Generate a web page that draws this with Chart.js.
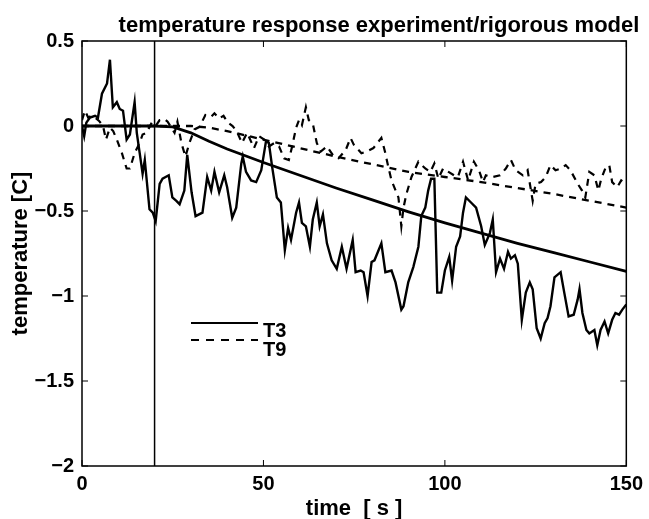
<!DOCTYPE html>
<html>
<head>
<meta charset="utf-8">
<script src="https://cdn.jsdelivr.net/npm/chart.js@4.4.0/dist/chart.umd.min.js"></script>
<style>
  html, body { margin: 0; padding: 0; background: #fff; }
</style>
</head>
<body>
<canvas id="myChart" width="649" height="519"></canvas>
<script>
// measured T3 (solid, noisy)
const t3Time = [0, 0.6, 1.2, 2.2, 3.6, 4.4, 5.5, 6.9, 7.7, 8.5, 9.6, 10.4, 11.3, 12.3, 13.2, 14.5, 15.1, 15.9, 16.7, 17.3,
  18.6, 19.5, 20.3, 21.4, 22.2, 23.9, 24.9, 26.0, 26.9, 28.2, 29.0, 30.2, 31.3, 33.2, 34.5, 35.6, 36.5, 37.8, 39.2, 40.0,
  41.4, 42.5, 43.9, 44.3, 45.2, 46.6, 48.0, 49.4, 50.7, 51.5, 52.4, 53.7, 54.8, 55.9, 56.8, 57.6, 59.0, 59.8, 60.6, 61.7,
  62.8, 63.6, 64.7, 65.5, 66.4, 67.5, 68.8, 70.2, 71.6, 72.9, 74.6, 75.4, 76.8, 77.6, 78.7, 79.8, 80.6, 82.5, 83.6, 85.3,
  86.4, 88.0, 88.6, 89.9, 91.3, 92.7, 93.5, 94.6, 95.4, 96.2, 97.1, 97.9, 99.0, 100.0, 101.2, 102.0, 103.1, 104.2, 105.0, 105.8,
  107.2, 108.6, 110.0, 111.0, 112.4, 113.2, 114.1, 115.2, 116.3, 117.4, 118.2, 119.3, 120.1, 121.2, 122.3, 123.4, 124.2, 125.3, 126.4, 127.5,
  128.3, 129.1, 130.2, 131.9, 132.9, 134.1, 135.5, 136.6, 137.1, 137.9, 139.0, 139.8, 141.2, 142.0, 142.9, 144.0, 145.0, 146.1, 147.0, 148.0,
  148.9, 150.0];
const t3Temp = [0.0, -0.06, 0.02, 0.05, 0.06, 0.05, 0.19, 0.25, 0.39, 0.11, 0.14, 0.10, 0.09, -0.08, -0.05, 0.14, -0.04, -0.16, -0.28, -0.20,
  -0.49, -0.51, -0.56, -0.34, -0.31, -0.29, -0.42, -0.44, -0.46, -0.38, -0.17, -0.39, -0.53, -0.51, -0.30, -0.38, -0.27, -0.39, -0.29, -0.36,
  -0.54, -0.48, -0.22, -0.18, -0.27, -0.32, -0.33, -0.26, -0.09, -0.10, -0.24, -0.42, -0.45, -0.73, -0.60, -0.67, -0.51, -0.45, -0.57, -0.59,
  -0.71, -0.55, -0.45, -0.59, -0.52, -0.69, -0.79, -0.84, -0.71, -0.84, -0.67, -0.86, -0.85, -0.86, -1.00, -0.80, -0.79, -0.69, -0.86, -0.85,
  -0.92, -1.08, -1.06, -0.92, -0.83, -0.71, -0.53, -0.48, -0.38, -0.31, -0.31, -0.98, -0.98, -0.85, -0.77, -0.91, -0.71, -0.65, -0.51, -0.42,
  -0.45, -0.48, -0.59, -0.70, -0.63, -0.55, -0.86, -0.78, -0.84, -0.74, -0.78, -0.76, -0.81, -1.14, -0.98, -0.92, -0.96, -1.19, -1.25, -1.16,
  -1.13, -1.06, -0.89, -0.86, -0.98, -1.12, -1.11, -1.02, -0.96, -1.10, -1.20, -1.22, -1.20, -1.29, -1.20, -1.15, -1.22, -1.14, -1.10, -1.11,
  -1.08, -1.05];

// measured T9 (dashed, noisy)
const t9Time = [0, 0.8, 1.7, 2.7, 3.6, 4.7, 5.8, 6.6, 7.7, 8.6, 9.6, 11.0, 12.3, 13.2, 14.5, 15.4, 16.2, 16.7, 17.8, 19.2,
  20.3, 21.4, 22.8, 23.6, 25.5, 26.3, 27.4, 28.5, 29.6, 31.0, 32.4, 34.0, 35.6, 36.5, 37.8, 39.0, 40.2, 41.5, 42.6, 44.1,
  45.5, 47.4, 48.8, 50.2, 51.5, 53.0, 54.3, 55.7, 57.0, 57.9, 59.0, 59.8, 60.6, 61.7, 62.5, 63.6, 64.7, 65.8, 67.5, 69.4,
  70.7, 72.7, 74.0, 74.9, 77.0, 78.4, 80.3, 82.5, 83.6, 84.4, 85.3, 87.2, 88.0, 88.6, 89.4, 90.8, 92.7, 94.6, 96.0, 97.1,
  98.2, 99.5, 101.0, 102.5, 103.6, 105.0, 106.4, 108.0, 109.4, 110.5, 111.3, 113.2, 115.2, 116.8, 118.2, 119.5, 121.5, 122.8, 124.2, 125.0,
  126.5, 127.8, 129.1, 130.5, 132.0, 133.3, 134.6, 136.6, 137.8, 138.7, 139.8, 141.2, 142.3, 143.1, 144.2, 145.3, 146.1, 147.5, 148.6, 150.0];
const t9Temp = [0.035, 0.09, 0.05, 0.06, 0.05, 0.03, 0.0, -0.08, -0.01, -0.03, -0.08, -0.16, -0.25, -0.25, -0.16, -0.12, -0.08, -0.05, -0.04, 0.02,
  0.0, 0.035, 0.04, 0.025, -0.04, 0.025, -0.10, -0.18, -0.10, -0.02, -0.005, 0.065, 0.055, 0.075, 0.045, 0.06, 0.02, 0.0, -0.03, -0.10,
  -0.04, -0.13, -0.06, -0.08, -0.12, -0.10, -0.12, -0.19, -0.20, -0.12, -0.01, 0.035, 0.005, 0.11, 0.035, 0.015, -0.10, -0.15, -0.12, -0.18,
  -0.19, -0.14, -0.07, -0.11, -0.16, -0.15, -0.13, -0.07, -0.16, -0.24, -0.32, -0.42, -0.59, -0.48, -0.40, -0.30, -0.21, -0.25, -0.27, -0.22,
  -0.31, -0.25, -0.27, -0.29, -0.30, -0.21, -0.32, -0.21, -0.26, -0.33, -0.29, -0.30, -0.29, -0.25, -0.20, -0.26, -0.29, -0.26, -0.44, -0.34,
  -0.33, -0.30, -0.23, -0.26, -0.25, -0.23, -0.26, -0.34, -0.38, -0.42, -0.27, -0.29, -0.38, -0.31, -0.25, -0.23, -0.33, -0.36, -0.32, -0.34];

// rigorous model
const modelTime = [0, 20, 25, 30, 35, 40, 50, 60, 70, 80, 90, 100, 110, 120, 130, 140, 150];
const modelT3 = [0, 0, -0.005, -0.04, -0.09, -0.135, -0.215, -0.29, -0.365, -0.435, -0.505, -0.57, -0.63, -0.69, -0.745, -0.8, -0.855];
const modelT9 = [0, 0, 0, 0, -0.01, -0.03, -0.08, -0.13, -0.18, -0.225, -0.27, -0.30, -0.33, -0.365, -0.40, -0.44, -0.48];

// step time marker
const stepTime = 20;

const xTicks = [0, 50, 100, 150];
const yTicks = [-2, -1.5, -1, -0.5, 0, 0.5];

const pts = (xs, ys) => xs.map((x, i) => ({ x: x, y: ys[i] }));

const FONT = '"Liberation Sans", Arial, Helvetica, sans-serif';

const extras = {
  id: 'extras',
  afterDraw(chart) {
    const { ctx, chartArea: a, scales: { x, y } } = chart;
    ctx.save();
    ctx.strokeStyle = '#000';
    ctx.lineWidth = 1.5;
    ctx.strokeRect(a.left, a.top, a.right - a.left, a.bottom - a.top);

    // inward ticks on all four sides
    ctx.lineWidth = 1;
    ctx.beginPath();
    xTicks.forEach(v => {
      const px = x.getPixelForValue(v);
      ctx.moveTo(px, a.bottom); ctx.lineTo(px, a.bottom - 6);
      ctx.moveTo(px, a.top); ctx.lineTo(px, a.top + 6);
    });
    yTicks.forEach(v => {
      const py = y.getPixelForValue(v);
      ctx.moveTo(a.left, py); ctx.lineTo(a.left + 6, py);
      ctx.moveTo(a.right, py); ctx.lineTo(a.right - 6, py);
    });
    ctx.stroke();

    // title
    ctx.fillStyle = '#000';
    ctx.font = 'bold 22px ' + FONT;
    ctx.textAlign = 'center';
    ctx.textBaseline = 'alphabetic';
    ctx.fillText('temperature response experiment/rigorous model', 379, 32);

    // legend
    ctx.lineWidth = 2;
    ctx.beginPath();
    ctx.moveTo(191, 323); ctx.lineTo(258, 323);
    ctx.stroke();
    ctx.setLineDash([8, 7]);
    ctx.beginPath();
    ctx.moveTo(191, 340); ctx.lineTo(258, 340);
    ctx.stroke();
    ctx.setLineDash([]);
    ctx.font = 'bold 20px ' + FONT;
    ctx.textAlign = 'left';
    ctx.fillText('T3', 263, 337);
    ctx.fillText('T9', 263, 356);
    ctx.restore();
  }
};

const config = {
  type: 'scatter',
  data: {
    datasets: [
      { data: pts(t3Time, t3Temp), borderColor: '#000', borderWidth: 2.4 },
      { data: pts(t9Time, t9Temp), borderColor: '#000', borderWidth: 2.2, borderDash: [7, 6] },
      { data: pts(modelTime, modelT3), borderColor: '#000', borderWidth: 2.8 },
      { data: pts(modelTime, modelT9), borderColor: '#000', borderWidth: 2.3, borderDash: [7, 6] },
      { data: pts([stepTime, stepTime], [-2, 0.5]), borderColor: '#000', borderWidth: 1.5 }
    ]
  },
  options: {
    responsive: false,
    animation: false,
    showLine: true,
    elements: { point: { radius: 0 }, line: { tension: 0, fill: false } },
    layout: { padding: { top: 41, right: 20, left: 0, bottom: 0 } },
    plugins: { legend: { display: false }, tooltip: { enabled: false }, title: { display: false } },
    scales: {
      x: {
        type: 'linear', min: 0, max: 150,
        afterBuildTicks: (s) => { s.ticks = xTicks.map(v => ({ value: v })); },
        afterFit: (s) => { s.height = 53; },
        grid: { display: false, drawTicks: false },
        border: { display: false },
        ticks: { color: '#000', padding: 6, font: { family: FONT, size: 20, weight: 'bold' }, maxRotation: 0 },
        title: { display: true, text: 'time  [ s ]', color: '#000', padding: 0,
          font: { family: FONT, size: 22, weight: 'bold', lineHeight: 0.9 } }
      },
      y: {
        type: 'linear', min: -2, max: 0.5,
        afterBuildTicks: (s) => { s.ticks = yTicks.map(v => ({ value: v })); },
        afterFit: (s) => { s.width = 82; },
        grid: { display: false, drawTicks: false },
        border: { display: false },
        ticks: { color: '#000', padding: 8, font: { family: FONT, size: 20, weight: 'bold' },
          callback: (v) => String(v).replace('-', '\u2212') },
        title: { display: true, text: 'temperature [C]', color: '#000', padding: 9,
          font: { family: FONT, size: 22, weight: 'bold', lineHeight: 1.1 } }
      }
    }
  },
  plugins: [extras]
};

const myChart = new Chart(document.getElementById('myChart'), config);
</script>
</body>
</html>
